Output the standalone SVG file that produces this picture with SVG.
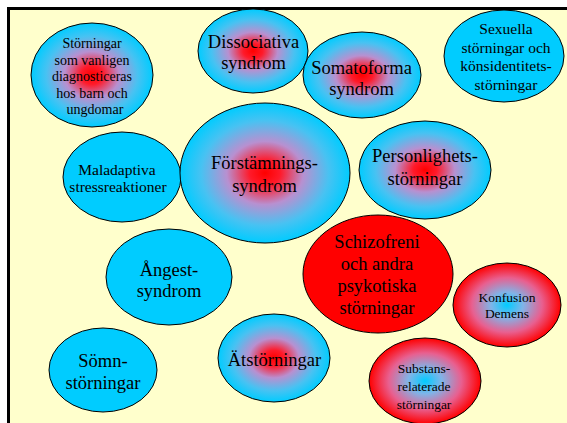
<svg xmlns="http://www.w3.org/2000/svg" width="567" height="423" viewBox="0 0 567 423">
  <defs>
    <!-- red core fading to cyan rim -->
    <radialGradient id="redCore" cx="50%" cy="50%" r="50%">
      <stop offset="0" stop-color="#ff0000"/>
      <stop offset="0.18" stop-color="#ff1a2a"/>
      <stop offset="0.45" stop-color="#b890d0"/>
      <stop offset="0.75" stop-color="#48c2f2"/>
      <stop offset="1" stop-color="#00ccff"/>
    </radialGradient>
    <!-- cyan core fading to red rim -->
    <radialGradient id="cyanCore" cx="50%" cy="50%" r="50%">
      <stop offset="0" stop-color="#00ccff"/>
      <stop offset="0.3" stop-color="#80b4e8"/>
      <stop offset="0.65" stop-color="#e86090"/>
      <stop offset="1" stop-color="#ff0000"/>
    </radialGradient>
  </defs>
  <style>
    .bubble { stroke: #000; stroke-width: 1; }
    .cyan { fill: #00ccff; }
    .red { fill: #ff0000; }
    .grad { fill: url(#redCore); }
    .inv { fill: url(#cyanCore); }
    text { font-family: "Liberation Serif", "Times New Roman", serif; fill: #000; text-anchor: middle; }
    .big { font-size: 18.5px; }
    .mid { font-size: 15.5px; }
    .small { font-size: 14px; }
    .tiny { font-size: 13.5px; }
  </style>

  <rect x="0" y="0" width="567" height="423" fill="#ffffff"/>
  <rect x="8.5" y="8.5" width="620" height="480" fill="#ffffcc" stroke="#000" stroke-width="3"/>

  <g id="barn">
    <ellipse class="bubble grad" cx="92" cy="75" rx="61" ry="52"/>
    <text class="small"><tspan x="92" y="48">Störningar</tspan><tspan x="92" y="64.5">som vanligen</tspan><tspan x="92" y="81">diagnosticeras</tspan><tspan x="92" y="97.5">hos barn och</tspan><tspan x="95" y="114">ungdomar</tspan></text>
  </g>

  <g id="dissociativa">
    <ellipse class="bubble grad" cx="253" cy="51" rx="55" ry="42"/>
    <text class="big"><tspan x="253.5" y="48">Dissociativa</tspan><tspan x="253.5" y="69">syndrom</tspan></text>
  </g>

  <g id="somatoforma">
    <ellipse class="bubble grad" cx="362" cy="75" rx="59" ry="43"/>
    <text class="big"><tspan x="361.5" y="74">Somatoforma</tspan><tspan x="361.5" y="95">syndrom</tspan></text>
  </g>

  <g id="sexuella">
    <ellipse class="bubble cyan" cx="504" cy="56" rx="60" ry="46"/>
    <text class="mid"><tspan x="506" y="34">Sexuella</tspan><tspan x="506" y="52.5">störningar och</tspan><tspan x="506" y="71">könsidentitets-</tspan><tspan x="506" y="89.5">störningar</tspan></text>
  </g>

  <g id="maladaptiva">
    <ellipse class="bubble cyan" cx="122" cy="177" rx="59" ry="45"/>
    <text class="mid"><tspan x="117" y="175">Maladaptiva</tspan><tspan x="118" y="192">stressreaktioner</tspan></text>
  </g>

  <g id="forstamning">
    <ellipse class="bubble grad" cx="265" cy="173" rx="85" ry="70"/>
    <text class="big"><tspan x="264.5" y="169">Förstämnings-</tspan><tspan x="264.5" y="192">syndrom</tspan></text>
  </g>

  <g id="personlighet">
    <ellipse class="bubble grad" cx="425" cy="170" rx="66" ry="49"/>
    <text class="big"><tspan x="425" y="162">Personlighets-</tspan><tspan x="425" y="185">störningar</tspan></text>
  </g>

  <g id="schizofreni">
    <ellipse class="bubble red" cx="378" cy="274" rx="75" ry="59"/>
    <text class="big"><tspan x="377" y="248">Schizofreni</tspan><tspan x="377" y="270">och andra</tspan><tspan x="377" y="292">psykotiska</tspan><tspan x="377" y="314">störningar</tspan></text>
  </g>

  <g id="angest">
    <ellipse class="bubble cyan" cx="169" cy="277" rx="63" ry="48"/>
    <text class="big"><tspan x="169" y="276">Ångest-</tspan><tspan x="169" y="297">syndrom</tspan></text>
  </g>

  <g id="konfusion">
    <ellipse class="bubble inv" cx="507" cy="305" rx="54" ry="42"/>
    <text class="tiny"><tspan x="507" y="302">Konfusion</tspan><tspan x="507" y="318">Demens</tspan></text>
  </g>

  <g id="somn">
    <ellipse class="bubble cyan" cx="103" cy="370" rx="54" ry="42"/>
    <text class="big"><tspan x="103" y="367">Sömn-</tspan><tspan x="103" y="389">störningar</tspan></text>
  </g>

  <g id="atstorning">
    <ellipse class="bubble grad" cx="274" cy="358" rx="56" ry="44"/>
    <text class="big"><tspan x="274.5" y="366">Ätstörningar</tspan></text>
  </g>

  <g id="substans">
    <ellipse class="bubble inv" cx="425" cy="381" rx="56" ry="43"/>
    <text class="tiny"><tspan x="424" y="373">Substans-</tspan><tspan x="424" y="391">relaterade</tspan><tspan x="424" y="409">störningar</tspan></text>
  </g>

  <g id="connectors"></g>
</svg>
